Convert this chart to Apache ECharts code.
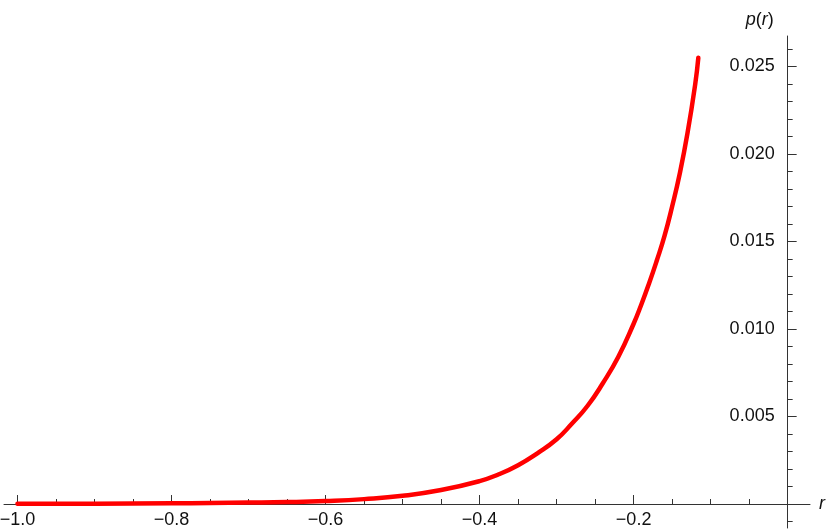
<!DOCTYPE html>
<html>
<head>
<meta charset="utf-8">
<script src="https://cdn.jsdelivr.net/npm/echarts@6/dist/echarts.min.js"></script>
<style>html,body{margin:0;padding:0;background:#fff}#c{width:830px;height:530px}</style>
</head>
<body>
<div id="c"></div>
<script>
// Data
const rValues = [-1.0, -0.9, -0.8, -0.75, -0.7, -0.65, -0.6, -0.55, -0.5, -0.45, -0.4, -0.375, -0.35, -0.325, -0.3, -0.28, -0.26, -0.24, -0.22, -0.2, -0.19, -0.18, -0.17, -0.16, -0.15, -0.14, -0.13, -0.12, -0.116];
const pValues = [0.00001, 0.00002, 0.00004, 0.00006, 0.00008, 0.00011, 0.00017, 0.00028, 0.00047, 0.0008, 0.00131, 0.0017, 0.00222, 0.0029, 0.0037, 0.0046, 0.0056, 0.0069, 0.0084, 0.0103, 0.0114, 0.0126, 0.0139, 0.0153, 0.0170, 0.0189, 0.0212, 0.0240, 0.0255];
const xMajorTicks = [-1.0, -0.8, -0.6, -0.4, -0.2];
const xMinorTicks = [-0.95, -0.9, -0.85, -0.75, -0.7, -0.65, -0.55, -0.5, -0.45, -0.35, -0.3, -0.25, -0.15, -0.1, -0.05];
const yMajorTicks = [0.005, 0.010, 0.015, 0.020, 0.025];
const yMinorTicks = [-0.001, 0.001, 0.002, 0.003, 0.004, 0.006, 0.007, 0.008, 0.009, 0.011, 0.012, 0.013, 0.014, 0.016, 0.017, 0.018, 0.019, 0.021, 0.022, 0.023, 0.024, 0.026];

const axisColor = '#333';
const textColor = '#111';
const font = '"Liberation Sans", Arial, sans-serif';
const FS = 18;
const X_MIN = -1.0175, X_MAX = 0.029, Y_MIN = -0.00137, Y_MAX = 0.02674;

function xAxisDef(ticks, len, withLabel, offset) {
  return {
    type: 'value', min: X_MIN, max: X_MAX, position: 'bottom', offset: offset,
    name: withLabel ? 'r' : '', nameLocation: 'end', nameGap: 9,
    nameTextStyle: { fontFamily: font, fontSize: FS, fontStyle: 'italic', color: textColor, verticalAlign: 'middle' },
    axisLine: { show: withLabel, onZero: false, lineStyle: { color: axisColor, width: 1 } },
    axisTick: { show: true, inside: true, length: len, customValues: ticks, lineStyle: { color: axisColor } },
    axisLabel: { show: withLabel, customValues: ticks, margin: 7, fontFamily: font, fontSize: FS, color: textColor,
      formatter: v => v.toFixed(1).replace('-', '\u2212') },
    splitLine: { show: false }
  };
}
function yAxisDef(ticks, len, withLabel, offset) {
  return {
    type: 'value', min: Y_MIN, max: Y_MAX, position: 'right', offset: offset,
    name: withLabel ? '{i|p}({i|r})' : '', nameLocation: 'end', nameGap: 7,
    nameTextStyle: { fontFamily: font, fontSize: FS, color: textColor, align: 'right', verticalAlign: 'bottom', padding: [0, 14, 0, 0],
      rich: { i: { fontFamily: font, fontSize: FS, fontStyle: 'italic', color: textColor } } },
    axisLine: { show: withLabel, onZero: false, lineStyle: { color: axisColor, width: 1 } },
    axisTick: { show: true, inside: false, length: len, customValues: ticks, lineStyle: { color: axisColor } },
    axisLabel: { show: withLabel, inside: true, customValues: ticks, margin: 13, fontFamily: font, fontSize: FS, color: textColor,
      formatter: v => v.toFixed(3) },
    splitLine: { show: false }
  };
}

const chart = echarts.init(document.getElementById('c'));
function build(xOff, yOff) {
  return {
    animation: false,
    grid: { left: 4, right: 20, top: 36, bottom: 2, containLabel: false, outerBoundsMode: 'none' },
    xAxis: [xAxisDef(xMajorTicks, 9, true, xOff), xAxisDef(xMinorTicks, 5, false, xOff)],
    yAxis: [yAxisDef(yMajorTicks, 9, true, yOff), yAxisDef(yMinorTicks, 5, false, yOff)],
    series: [{
      type: 'line', xAxisIndex: 0, yAxisIndex: 0,
      data: rValues.map((r, i) => [r, pValues[i]]),
      smooth: 0.5, showSymbol: false, symbol: 'none',
      lineStyle: { color: '#ff0000', width: 4.5, cap: 'round', join: 'round' }
    }]
  };
}
chart.setOption(build(0, 0));
// move the axes so that they cross at the origin (r = 0, p = 0)
const origin = chart.convertToPixel({ xAxisIndex: 0, yAxisIndex: 0 }, [0, 0]);
const rect = chart.getModel().getComponent('grid', 0).coordinateSystem.getRect();
const xOff = -((rect.y + rect.height) - origin[1]);
const yOff = -((rect.x + rect.width) - origin[0]);
chart.setOption(build(xOff, yOff), true);
</script>
</body>
</html>
